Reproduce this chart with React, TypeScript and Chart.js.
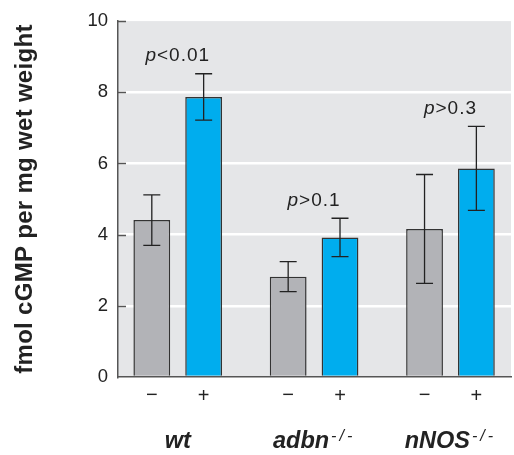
import React, { useEffect, useRef } from "react";
import { Chart, registerables } from "chart.js";

Chart.register(...registerables);

// ---- data ----
const groups = ["wt", "adbn", "nNOS"];
const groupSuperscripts = ["", "-/-", "-/-"];
const treatmentLabels = ["\u2212", "+"];
const untreated = [4.41, 2.82, 4.16];
const untreatedErr = [0.71, 0.42, 1.53];
const treated = [7.87, 3.92, 5.86];
const treatedErr = [0.65, 0.54, 1.18];
const pSymbols = ["<0.01", ">0.1", ">0.3"];
const yTitle = "fmol cGMP per mg wet weight";
const yMin = 0;
const yMax = 10;
const yStep = 2;

const FONT = '"Liberation Sans", Arial, Helvetica, sans-serif';
const BG = "#E5E6E8";
const GREY = "#B2B3B7";
const BLUE = "#00ADEE";
const INK = "#222222";
const AXIS = "#555555";

const errs = [untreatedErr, treatedErr];

const annotPlugin = {
  id: "annot",
  beforeDraw(chart: any) {
    const { ctx, chartArea: a } = chart;
    ctx.save();
    ctx.fillStyle = BG;
    ctx.fillRect(a.left, a.top, a.right - a.left, a.bottom - a.top);
    ctx.restore();
  },
  afterDatasetsDraw(chart: any) {
    const { ctx } = chart;
    const ys = chart.scales.y;
    ctx.save();
    ctx.strokeStyle = INK;
    ctx.lineWidth = 1.3;
    chart.data.datasets.forEach((ds: any, di: number) => {
      const meta = chart.getDatasetMeta(di);
      meta.data.forEach((bar: any, i: number) => {
        const v = ds.data[i].y;
        const e = errs[di][i];
        const yTop = ys.getPixelForValue(v + e);
        const yBot = ys.getPixelForValue(v - e);
        const x = bar.x;
        const cap = 8.5;
        ctx.beginPath();
        ctx.moveTo(x, yTop);
        ctx.lineTo(x, yBot);
        ctx.moveTo(x - cap, yTop);
        ctx.lineTo(x + cap, yTop);
        ctx.moveTo(x - cap, yBot);
        ctx.lineTo(x + cap, yBot);
        ctx.stroke();
      });
    });
    ctx.restore();
  },
  afterDraw(chart: any) {
    const { ctx, chartArea: a } = chart;
    const ys = chart.scales.y;
    ctx.save();
    // inward tick marks
    ctx.strokeStyle = AXIS;
    ctx.lineWidth = 1.5;
    for (let v = yMin + yStep; v <= yMax; v += yStep) {
      const y = Math.round(ys.getPixelForValue(v)) + 0.5;
      ctx.beginPath();
      ctx.moveTo(a.left, y);
      ctx.lineTo(a.left + 8, y);
      ctx.stroke();
    }

    const m0 = chart.getDatasetMeta(0);
    const m1 = chart.getDatasetMeta(1);
    ctx.fillStyle = INK;

    // treatment labels
    ctx.font = `20px ${FONT}`;
    ctx.textAlign = "center";
    ctx.textBaseline = "middle";
    groups.forEach((_, i) => {
      ctx.fillText(treatmentLabels[0], m0.data[i].x, 395);
      ctx.fillText(treatmentLabels[1], m1.data[i].x, 396);
    });

    // p-values
    ctx.textAlign = "left";
    ctx.textBaseline = "middle";
    groups.forEach((_, i) => {
      const cx = (m0.data[i].x + m1.data[i].x) / 2;
      const top = Math.max(untreated[i] + untreatedErr[i], treated[i] + treatedErr[i]);
      const y = ys.getPixelForValue(top) - 18;
      (ctx as any).letterSpacing = "1px";
      ctx.font = `italic 19px ${FONT}`;
      const wp = ctx.measureText("p").width;
      ctx.font = `19px ${FONT}`;
      const wr = ctx.measureText(pSymbols[i]).width;
      const x = cx - (wp + wr) / 2;
      ctx.font = `italic 19px ${FONT}`;
      ctx.fillText("p", x, y);
      ctx.font = `19px ${FONT}`;
      ctx.fillText(pSymbols[i], x + wp, y);
    });
    (ctx as any).letterSpacing = "0px";

    // group labels
    ctx.textBaseline = "alphabetic";
    groups.forEach((g, i) => {
      const cx = (m0.data[i].x + m1.data[i].x) / 2;
      ctx.font = `italic bold 23.5px ${FONT}`;
      (ctx as any).letterSpacing = "0px";
      const wm = ctx.measureText(g).width;
      ctx.font = `italic 16px ${FONT}`;
      (ctx as any).letterSpacing = "3px";
      const ws = groupSuperscripts[i] ? ctx.measureText(groupSuperscripts[i]).width + 2 : 0;
      const x0 = cx - (wm + ws) / 2;
      ctx.font = `italic bold 23.5px ${FONT}`;
      (ctx as any).letterSpacing = "0px";
      ctx.fillText(g, x0, 448);
      if (groupSuperscripts[i]) {
        ctx.font = `italic 16px ${FONT}`;
        (ctx as any).letterSpacing = "3px";
        ctx.fillText(groupSuperscripts[i], x0 + wm + 2, 441);
      }
    });
    (ctx as any).letterSpacing = "0px";

    // y title
    ctx.translate(25, (a.top + a.bottom) / 2);
    ctx.rotate(-Math.PI / 2);
    ctx.font = `bold 24px ${FONT}`;
    (ctx as any).letterSpacing = "0.3px";
    ctx.textAlign = "center";
    ctx.textBaseline = "middle";
    ctx.fillText(yTitle, 0, 0);
    ctx.restore();
  },
};

export default function App() {
  const ref = useRef<HTMLCanvasElement | null>(null);
  useEffect(() => {
    if (!ref.current) return;
    const chart = new Chart(ref.current, {
      type: "bar",
      data: {
        datasets: [
          {
            label: treatmentLabels[0],
            data: untreated.map((v, i) => ({ x: i, y: v })),
            backgroundColor: GREY,
            borderColor: "#333333",
            borderWidth: 1.5,
            categoryPercentage: 0.862,
            barPercentage: 0.71,
          },
          {
            label: treatmentLabels[1],
            data: treated.map((v, i) => ({ x: i, y: v })),
            backgroundColor: BLUE,
            borderColor: "#333333",
            borderWidth: 1.5,
            categoryPercentage: 0.862,
            barPercentage: 0.71,
          },
        ],
      },
      options: {
        responsive: false,
        animation: false,
        layout: { padding: { top: 21, right: 3, left: 0, bottom: 0 } },
        plugins: { legend: { display: false }, tooltip: { enabled: false } },
        scales: {
          x: {
            type: "linear",
            min: -0.438,
            max: 2.444,
            bounds: "data",
            offset: false,
            grid: { display: false, offset: false },
            ticks: { display: false, stepSize: 1, includeBounds: false },
            border: { color: AXIS, width: 1.5 },
            afterFit(scale: any) {
              scale.height = 78;
            },
          },
          y: {
            min: yMin,
            max: yMax,
            ticks: {
              stepSize: yStep,
              color: INK,
              font: { family: FONT, size: 18.5 },
              padding: 10,
            },
            grid: {
              drawTicks: false,
              lineWidth: 2.5,
              color: (c: any) =>
                c.tick && (c.tick.value === yMin || c.tick.value === yMax)
                  ? "rgba(0,0,0,0)"
                  : "#FFFFFF",
            },
            border: { color: AXIS, width: 1.5 },
            afterFit(scale: any) {
              scale.width = 118;
            },
          },
        },
      } as any,
      plugins: [annotPlugin],
    });
    return () => chart.destroy();
  }, []);
  return (
    <div style={{ position: "absolute", left: 0, top: 0, width: 514, height: 455, background: "#fff" }}>
      <canvas ref={ref} width={514} height={455} />
    </div>
  );
}
